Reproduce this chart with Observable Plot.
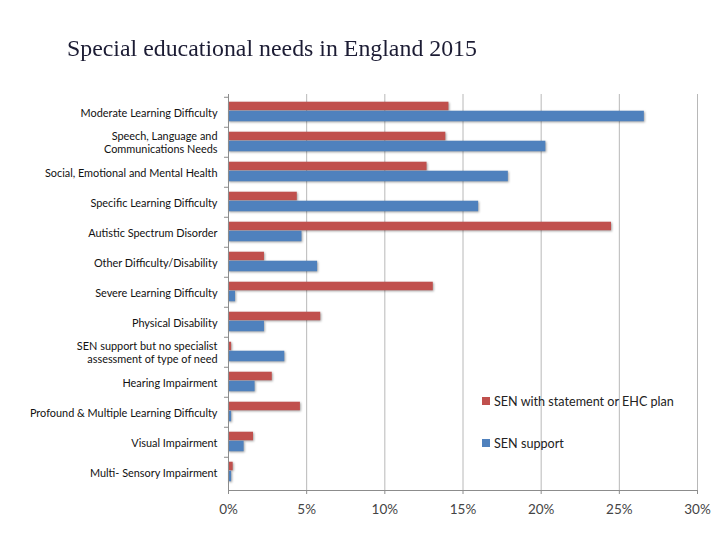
<!DOCTYPE html>
<html>
<head>
<meta charset="utf-8">
<script src="https://cdn.jsdelivr.net/npm/d3@7"></script>
<script src="https://cdn.jsdelivr.net/npm/@observablehq/plot@0.6"></script>
<style>
  html, body { margin: 0; padding: 0; background: #fff; }
  #wrap { position: relative; width: 720px; height: 540px; overflow: hidden; }
  #title { height: 80px; position: relative; }
  #title span { position: absolute; left: 67px; top: 36px; font-family: "Liberation Serif", "Times New Roman", serif; font-size: 22.5px; color: #1c1c34; white-space: nowrap; transform: scaleX(1.06); transform-origin: left center; }
  #legend { position: absolute; left: 482px; top: 392px; font-family: Lato, "Open Sans", sans-serif; font-size: 12.6px; color: #222; }
  #legend div { display: flex; align-items: center; height: 18px; margin-bottom: 24px; }
  #legend i { display: inline-block; width: 8px; height: 8px; margin-right: 4px; }
  .bar rect { filter: drop-shadow(1.5px 1.5px 1px rgba(0,0,0,0.35)); }
</style>
</head>
<body>
<div id="wrap">
  <div id="title"><span>Special educational needs in England 2015</span></div>
  <div id="chart"></div>
  <div id="legend"></div>
</div>
<script>
const categories = [
  "Moderate Learning Difficulty",
  "Speech, Language and\nCommunications Needs",
  "Social, Emotional and Mental Health",
  "Specific Learning Difficulty",
  "Autistic Spectrum Disorder",
  "Other Difficulty/Disability",
  "Severe Learning Difficulty",
  "Physical Disability",
  "SEN support but no specialist\nassessment of type of need",
  "Hearing Impairment",
  "Profound & Multiple Learning Difficulty",
  "Visual Impairment",
  "Multi- Sensory Impairment"
];
const seriesNames = ["SEN with statement or EHC plan", "SEN support"];
const senStatement = [14.1, 13.9, 12.7, 4.4, 24.5, 2.3, 13.1, 5.9, 0.2, 2.8, 4.6, 1.6, 0.3];
const senSupport   = [26.6, 20.3, 17.9, 16.0, 4.7, 5.7, 0.45, 2.3, 3.6, 1.7, 0.2, 1.0, 0.2];
const xTicks = [0, 5, 10, 15, 20, 25, 30];
const colors = ["#C0504D", "#4F81BD"];

const statementData = categories.map((c, i) => ({category: c, value: senStatement[i] / 100}));
const supportData = categories.map((c, i) => ({category: c, value: senSupport[i] / 100}));

const chartHeight = 460;
const marginTop = 14, marginBottom = 50;
const step = (chartHeight - marginTop - marginBottom) / categories.length;

const chart = Plot.plot({
  width: 720,
  height: chartHeight,
  marginLeft: 228,
  marginRight: 23,
  marginTop,
  marginBottom,
  style: {fontFamily: "Lato, 'Open Sans', sans-serif", background: "#fff"},
  x: {domain: [0, 0.30]},
  y: {domain: categories, padding: 0},
  marks: [
    Plot.gridX(xTicks.map(d => d / 100), {stroke: "#b8b8b8", strokeOpacity: 1}),
    Plot.barX(statementData, {x: "value", y: "category", fill: colors[0], insetTop: step / 2 - 10.5, insetBottom: step / 2 + 1.5, className: "bar"}),
    Plot.barX(supportData, {x: "value", y: "category", fill: colors[1], insetTop: step / 2 - 1.5, insetBottom: step / 2 - 9.5, className: "bar"}),
    Plot.ruleX([0], {stroke: "#8c8c8c"}),
    Plot.frame({anchor: "bottom", stroke: "#8c8c8c"}),
    Plot.axisX({ticks: xTicks.map(d => d / 100), tickFormat: d => Math.round(d * 100) + "%", tickSize: 4, tickPadding: 10, stroke: "#8c8c8c", fill: "#444", fontSize: 13.5, label: null}),
    Plot.axisY({tickSize: 0, tickPadding: 11, fontSize: 10.9, fill: "#111", label: null, lineHeight: 1.2}),
    Plot.axisY({tickSize: 4, tickFormat: () => "", dy: -step / 2, stroke: "#8c8c8c", label: null})
  ]
});
document.getElementById("chart").appendChild(chart);

const legend = document.getElementById("legend");
seriesNames.forEach((name, i) => {
  const row = document.createElement("div");
  const sw = document.createElement("i");
  sw.style.background = colors[i];
  row.appendChild(sw);
  row.appendChild(document.createTextNode(name));
  legend.appendChild(row);
});
</script>
</body>
</html>
